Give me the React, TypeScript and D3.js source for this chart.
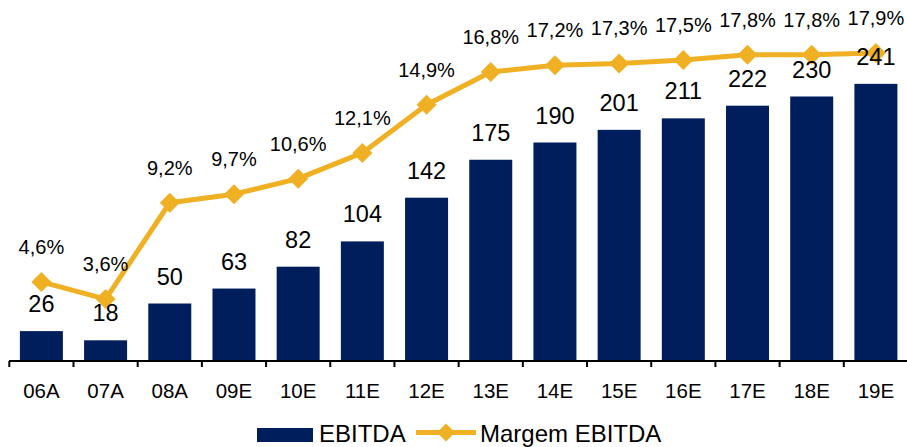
import React from "react";
import * as d3 from "d3";

const categories = ["06A", "07A", "08A", "09E", "10E", "11E", "12E", "13E", "14E", "15E", "16E", "17E", "18E", "19E"];
const ebitda = [26, 18, 50, 63, 82, 104, 142, 175, 190, 201, 211, 222, 230, 241];
const margin = [4.6, 3.6, 9.2, 9.7, 10.6, 12.1, 14.9, 16.8, 17.2, 17.3, 17.5, 17.8, 17.8, 17.9];
const marginLabels = ["4,6%", "3,6%", "9,2%", "9,7%", "10,6%", "12,1%", "14,9%", "16,8%", "17,2%", "17,3%", "17,5%", "17,8%", "17,8%", "17,9%"];

const W = 907;
const H = 447;
const NAVY = "#001E5B";
const GOLD = "#F0B023";
const FONT = "'Liberation Sans', Arial, sans-serif";

export default function App() {
  const x = d3.scaleBand<string>().domain(categories).range([9.3, 908]).padding(0);
  const bw = x.bandwidth();
  const barW = 43;
  const yBar = d3.scaleLinear().domain([0, 300]).range([361, 16]);
  const yM = d3.scaleLinear().domain([0, 20]).range([361, 17]);
  const cx = (c: string) => (x(c) as number) + bw / 2;

  const line = d3
    .line<number>()
    .x((_, i) => cx(categories[i]))
    .y((d) => yM(d));

  const diamond = (px: number, py: number, r: number) =>
    `M${px},${py - r}L${px + r},${py}L${px},${py + r}L${px - r},${py}Z`;

  const ticks = categories.map((c) => x(c) as number).concat([(x(categories[categories.length - 1]) as number) + bw]);

  return (
    <svg width={W} height={H} style={{ position: "absolute", left: 0, top: 0, background: "#fff" }} fontFamily={FONT}>
      {categories.map((c, i) => (
        <rect key={c} x={cx(c) - barW / 2} y={yBar(ebitda[i])} width={barW} height={yBar(0) - yBar(ebitda[i])} fill={NAVY} />
      ))}
      <line x1={9} x2={907} y1={361} y2={361} stroke="#000" strokeWidth={2} />
      {ticks.map((t, i) => (
        <line key={i} x1={t} x2={t} y1={361} y2={367} stroke="#000" strokeWidth={2} />
      ))}
      {categories.map((c) => (
        <text key={c} x={cx(c)} y={398} textAnchor="middle" fontSize={20.5} fill="#000">
          {c}
        </text>
      ))}
      <path d={line(margin) || ""} fill="none" stroke={GOLD} strokeWidth={5} strokeLinejoin="round" />
      {categories.map((c, i) => (
        <path key={c} d={diamond(cx(c), yM(margin[i]), 10)} fill={GOLD} />
      ))}
      {categories.map((c, i) => (
        <text key={c} x={cx(c)} y={yBar(ebitda[i]) - 19} textAnchor="middle" fontSize={23.5} fill="#000">
          {ebitda[i]}
        </text>
      ))}
      {categories.map((c, i) => (
        <text key={c} x={cx(c)} y={yM(margin[i]) - 28} textAnchor="middle" fontSize={20} fill="#000">
          {marginLabels[i]}
        </text>
      ))}
      <g>
        <rect x={257} y={428} width={56} height={14} fill={NAVY} />
        <text x={319} y={442} fontSize={24} fill="#000">EBITDA</text>
        <line x1={416} x2={476} y1={432.5} y2={432.5} stroke={GOLD} strokeWidth={5} />
        <path d={diamond(446, 432.5, 9)} fill={GOLD} />
        <text x={480} y={442} fontSize={24} fill="#000">Margem EBITDA</text>
      </g>
    </svg>
  );
}
